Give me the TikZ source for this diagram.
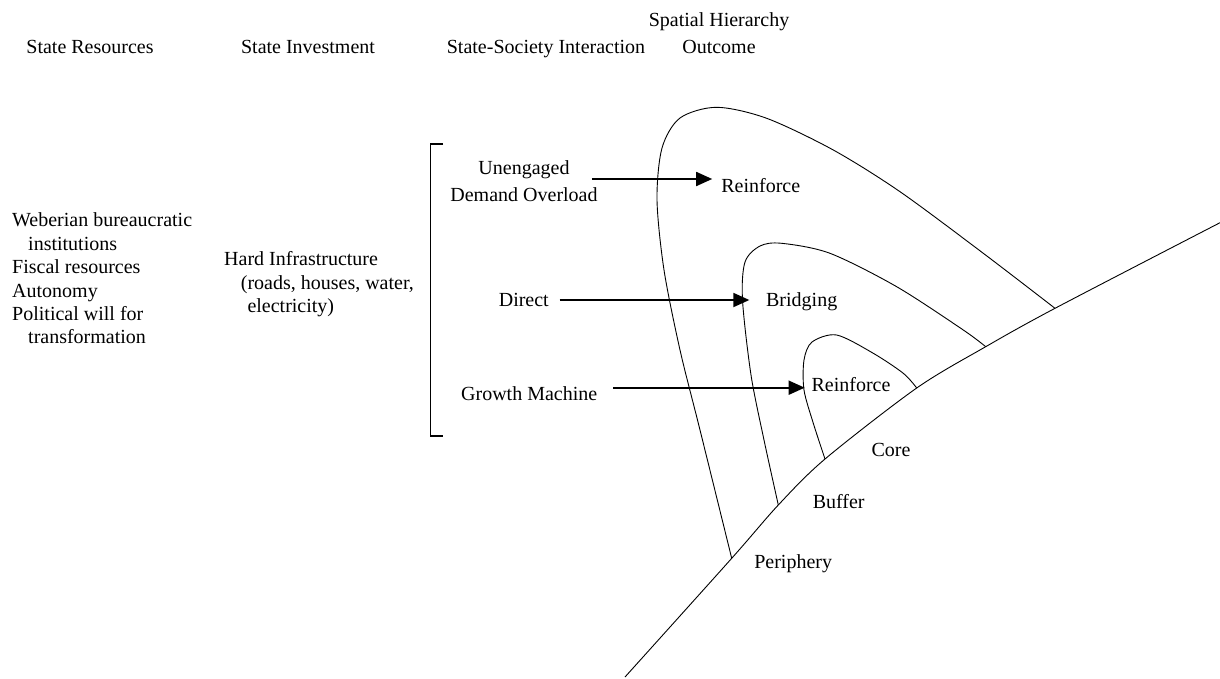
\documentclass[tikz,border=0pt]{standalone}
\usepackage{fontspec}
\setmainfont{Liberation Serif}
\usetikzlibrary{arrows.meta, positioning}

\begin{document}
\begin{tikzpicture}[x=1pt, y=-1pt, >={Triangle[length=16pt,width=14pt]},
    % text is placed in pixel-like units, y grows downwards
    txt/.style={font=\fontsize{20}{23.4}\selectfont, inner sep=0pt},
    arr/.style={->, line width=1.8pt},
    zone/.style={line width=0.9pt}]
    \useasboundingbox (0,0) rectangle (1220,678);

    % column headings
    \node[txt] (hdres) at (90,47) {State Resources};
    \node[txt] (hdinv) at (308,47) {State Investment};
    \node[txt] (hdint) at (546,49) {State-Society Interaction};
    \node[txt, align=center] (hdout) at (719,33.5) {Spatial Hierarchy\\[3.6pt]Outcome};

    % left columns
    \node[txt, align=left, anchor=west] (res) at (12,278.5) {Weberian bureaucratic\\
        \hspace*{16pt}institutions\\ Fiscal resources\\ Autonomy\\
        Political will for\\ \hspace*{16pt}transformation};
    \node[txt, align=left, anchor=west] (inv) at (224,284.5) {Hard Infrastructure\\
        \hspace*{16.7pt}(roads, houses, water,\\ \hspace*{23.3pt}electricity)};

    % bracket round the interactions
    \draw[line width=1.3pt] (443,144) -| (430.7,436) -- (443,436);

    \node[txt, align=center] (ueng) at (524,181.5) {Unengaged\\[3.3pt]Demand Overload};
    \node[txt] (dir)  at (523.8,300) {Direct};
    \node[txt] (grow) at (529.2,393.3) {Growth Machine};

    % outcomes
    \node[txt] (rin1) at (760.8,186) {Reinforce};
    \node[txt] (brg)  at (801.7,301.5) {Bridging};
    \node[txt] (rin3) at (851,385) {Reinforce};
    \node[txt] (core) at (891,450) {Core};
    \node[txt] (buf)  at (838.7,501.5) {Buffer};
    \node[txt] (peri) at (793.2,563.5) {Periphery};

    \draw[arr] ([xshift=-6pt,yshift=2.5pt]ueng.east) coordinate (u0) -- ([xshift=-9pt]u0 -| rin1.west);
    \draw[arr] ([xshift=10.7pt]dir.east) coordinate (d0) -- ([xshift=-16.6pt]d0 -| brg.west);
    \draw[arr] ([xshift=16pt,yshift=5.6pt]grow.east) coordinate (g0) -- ([xshift=-6.7pt]g0 -| rin3.west);

    % hierarchy line and its three zones
    \coordinate (p0) at (625,677);
    \coordinate (per0) at (731.7,558.3);
    \coordinate (buf0) at (778.3,505);
    \coordinate (cor0) at (825,459);
    \coordinate (cor1) at (916.7,388);
    \coordinate (buf1) at (985.7,346.7);
    \coordinate (per1) at (1055,308.3);
    \coordinate (p1) at (1220,222.7);
    \draw[zone] plot[smooth] coordinates {(p0) (per0) (buf0) (cor0) (cor1) (buf1) (per1) (p1)};

    \draw[zone] plot[smooth] coordinates {(per0) (700,430) (680,350) (664,270) (657,200) (662,148)
        (680,118) (716.7,107.3) (766.7,118.3) (833.3,150) (900,191.7) (983.3,253.3) (per1)};
    \draw[zone] plot[smooth] coordinates {(buf0) (764,440) (751,375) (742.5,300) (745,262)
        (760,246) (781.7,243.3) (830,253.3) (896.7,286.7) (963.3,330) (buf1)};
    \draw[zone] plot[smooth] coordinates {(cor0) (813.3,423.3) (804,390) (804,360) (812,342)
        (836.7,335) (873.3,353.3) (903.3,373.3) (cor1)};
\end{tikzpicture}
\end{document}
